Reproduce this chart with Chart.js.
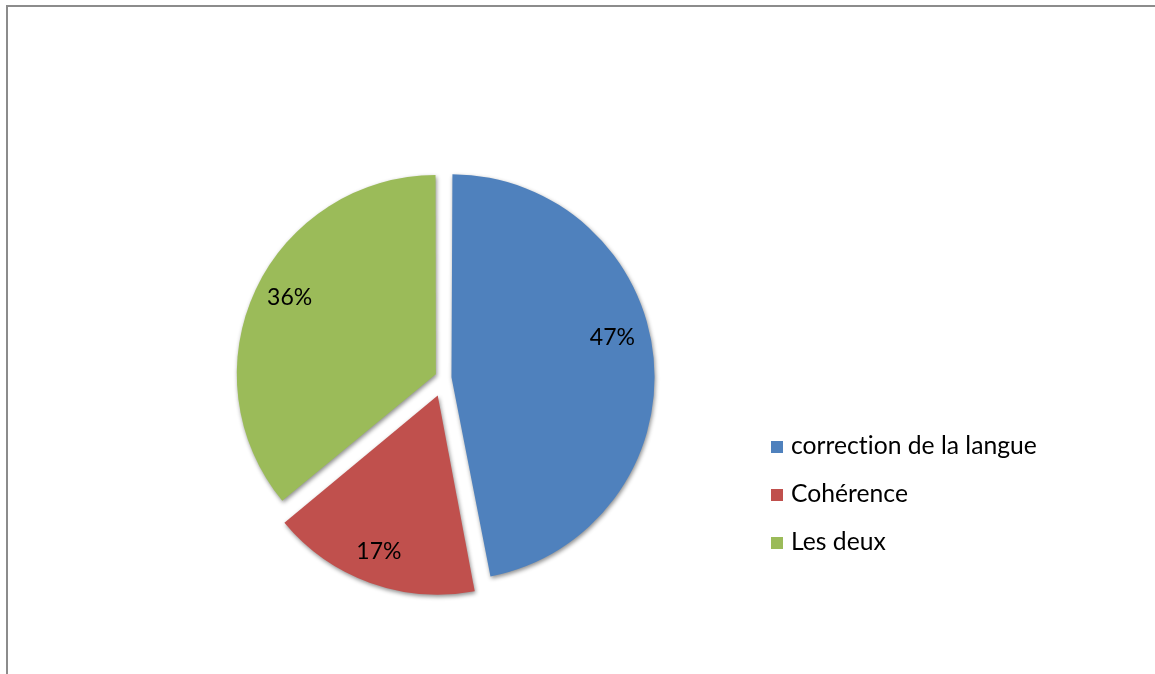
<!DOCTYPE html>
<html>
<head>
<meta charset="utf-8">
<script src="https://cdn.jsdelivr.net/npm/chart.js@4/dist/chart.umd.min.js"></script>
<style>
  html, body { margin: 0; padding: 0; background: #fff; }
  #wrap { position: relative; width: 1155px; height: 674px; overflow: hidden; }
  #frame {
    position: absolute; left: 6px; top: 5px; right: 0; bottom: -2px;
    border-top: 2px solid #8c8c8c; border-left: 2px solid #8c8c8c;
  }
  #pie { position: absolute; left: 0; top: 0; }
  #legend {
    position: absolute; left: 771px; top: 426px;
    font-family: 'Lato', sans-serif; font-size: 24.7px; color: #000;
    font-variant-ligatures: none; font-feature-settings: "liga" 0, "dlig" 0;
    list-style: none; margin: 0; padding: 0;
  }
  #legend li { height: 48px; line-height: 38px; white-space: nowrap; }
  #legend span.box {
    display: inline-block; width: 12px; height: 12px; margin-right: 8px;
    vertical-align: 1px;
  }
</style>
</head>
<body>
<div id="wrap">
  <div id="frame"></div>
  <canvas id="pie" width="1155" height="674"></canvas>
  <ul id="legend"></ul>
</div>
<script>
const labels = ['correction de la langue', 'Cohérence', 'Les deux'];
const values = [47, 17, 36];
const colors = ['#4f81bd', '#c0504d', '#9bbb59'];
const explode = [30, 74, 36];

// soft drop shadow under the slices
const shadowPlugin = {
  id: 'sliceShadow',
  beforeDatasetsDraw(chart) {
    const ctx = chart.ctx;
    ctx.save();
    ctx.shadowColor = 'rgba(0,0,0,0.45)';
    ctx.shadowBlur = 4;
    ctx.shadowOffsetX = 1;
    ctx.shadowOffsetY = 2;
  },
  afterDatasetsDraw(chart) {
    chart.ctx.restore();
  }
};

// percentage labels inside each slice (small per-slice nudge in px)
const pctLabels = {
  id: 'pctLabels',
  afterDatasetsDraw(chart, args, opts) {
    const ctx = chart.ctx;
    const meta = chart.getDatasetMeta(0);
    const total = values.reduce((a, b) => a + b, 0);
    const nudge = opts.nudge || [];
    ctx.save();
    ctx.font = '23px Lato, sans-serif';
    ctx.fillStyle = '#000';
    ctx.textAlign = 'center';
    ctx.textBaseline = 'middle';
    meta.data.forEach((arc, i) => {
      const p = arc.getProps(['x', 'y', 'startAngle', 'endAngle', 'outerRadius', 'circumference']);
      const mid = (p.startAngle + p.endAngle) / 2;
      const off = (arc.options.offset || 0) / 4;
      const fix = 1 - Math.sin(Math.min(Math.PI, p.circumference));
      const r = off * (1 + fix) + p.outerRadius * 0.81;
      const [nx, ny] = nudge[i] || [0, 0];
      const txt = Math.round(values[i] / total * 100) + '%';
      ctx.fillText(txt, p.x + Math.cos(mid) * r + nx, p.y + Math.sin(mid) * r + ny);
    });
    ctx.restore();
  }
};

new Chart(document.getElementById('pie'), {
  type: 'pie',
  data: {
    labels: labels,
    datasets: [{
      data: values,
      backgroundColor: colors,
      borderWidth: 0,
      offset: explode,
      hoverOffset: 0
    }]
  },
  options: {
    responsive: false,
    animation: false,
    radius: 197,
    layout: { padding: { left: 0, right: 267, top: 82, bottom: 0 } },
    plugins: {
      legend: { display: false },
      tooltip: { enabled: false },
      pctLabels: { nudge: [[-4, -24], [-4, 4], [0, -8]] }
    }
  },
  plugins: [shadowPlugin, pctLabels]
});

const legend = document.getElementById('legend');
labels.forEach((name, i) => {
  const li = document.createElement('li');
  const box = document.createElement('span');
  box.className = 'box';
  box.style.background = colors[i];
  li.appendChild(box);
  li.appendChild(document.createTextNode(name));
  legend.appendChild(li);
});
</script>
</body>
</html>
